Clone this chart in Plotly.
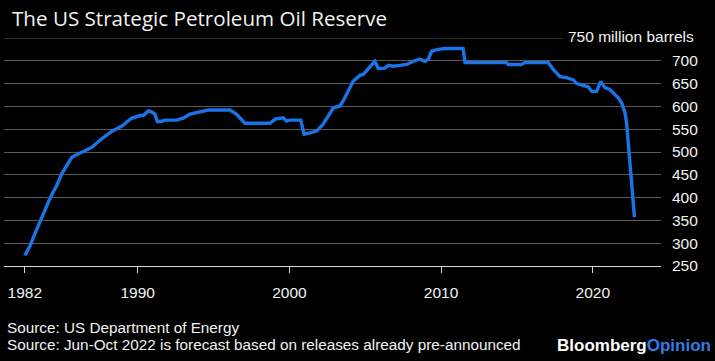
import plotly.graph_objects as go

# ---- data ----
dates = [
    "1982-07-25", "1982-12-01", "1983-03-25", "1983-07-20", "1983-11-20",
    "1984-03-15", "1984-05-25", "1984-08-28", "1984-12-28", "1985-04-25",
    "1985-08-25", "1985-11-05", "1986-04-15", "1986-12-20", "1987-08-05",
    "1988-04-15", "1988-12-15", "1989-08-05", "1990-02-25", "1990-05-15",
    "1990-09-15", "1990-12-01", "1991-02-20", "1991-04-20", "1991-07-30",
    "1991-10-20", "1992-07-25", "1993-01-01", "1993-06-15", "1994-02-05",
    "1994-08-25", "1996-01-30", "1996-07-01", "1997-01-25", "1998-09-20",
    "1999-01-20", "1999-08-05", "1999-10-25", "2000-01-15", "2000-10-01",
    "2000-12-20", "2001-05-10", "2001-10-20", "2002-03-25", "2002-11-25",
    "2003-05-01", "2003-07-20", "2004-03-15", "2004-08-25", "2004-11-15",
    "2005-08-20", "2005-11-10", "2006-04-20", "2006-07-10", "2006-11-05",
    "2007-04-15", "2007-09-25", "2008-03-01", "2008-08-05", "2008-12-10",
    "2009-02-25", "2009-05-20", "2009-10-25", "2010-04-05", "2011-06-15",
    "2011-08-01", "2014-04-25", "2014-06-05", "2015-04-20", "2015-07-10",
    "2017-01-25", "2017-05-25", "2017-11-01", "2018-04-10", "2018-09-20",
    "2018-12-10", "2019-05-15", "2019-09-10", "2019-12-05", "2020-04-05",
    "2020-07-10", "2020-10-20", "2021-02-15", "2021-06-15", "2021-09-05",
    "2021-11-25", "2022-02-15", "2022-03-25", "2022-10-01",
]
reserve = [
    273, 295, 321, 346, 375,
    397, 410, 426, 452, 470,
    488, 492, 499, 510, 528,
    545, 557, 574, 580, 580,
    590, 588, 583, 567, 567,
    570, 570, 574, 583, 588,
    592, 592, 583, 563, 563,
    572, 575, 568, 570, 570,
    539, 542, 546, 561, 597,
    601, 612, 655, 668, 670,
    699, 683, 684, 690, 688,
    690, 692, 699, 704, 699,
    703, 721, 725, 727, 727,
    696, 696, 692, 692, 696,
    696, 681, 665, 663, 658,
    650, 646, 643, 633, 633,
    655, 641, 637, 626, 619,
    608, 586, 564, 357,
]
x_tick_vals = ["1982-07-25", "1990-01-01", "2000-01-01", "2010-01-01", "2020-01-01"]
x_tick_text = ["1982", "1990", "2000", "2010", "2020"]
y_tick_vals = [250, 300, 350, 400, 450, 500, 550, 600, 650, 700]
y_tick_text = ["250", "300", "350", "400", "450", "500", "550", "600", "650", "700"]
top_label = "750 million barrels"
title_text = "The US Strategic Petroleum Oil Reserve"
source_1 = "Source: US Department of Energy"
source_2 = "Source: Jun-Oct 2022 is forecast based on releases already pre-announced"
brand_1 = "Bloomberg"
brand_2 = "Opinion"

# ---- styling ----
BG = "#000000"
GRID = "#5a5a5a"
LINE = "#1a74e8"
TXT = "#f2f2f2"
FONT = "Liberation Sans, Arial, sans-serif"

fig = go.Figure()
fig.add_trace(go.Scatter(
    x=dates, y=reserve, mode="lines",
    line=dict(color=LINE, width=3.4),
    hoverinfo="skip", showlegend=False,
))

W, H = 715, 361
L, R, T, B = 4, 54, 38, 95
PW = W - L - R
PH = H - T - B

fig.update_layout(
    width=W, height=H,
    paper_bgcolor=BG, plot_bgcolor=BG,
    margin=dict(l=L, r=R, t=T, b=B, autoexpand=False),
    font=dict(family=FONT, color=TXT, size=15.5),
    title=dict(
        text=title_text, xref="container", yref="container",
        x=12 / W, y=1 - 19 / H, xanchor="left", yanchor="middle",
        font=dict(family="Open Sans, Noto Sans, sans-serif", size=20.6, color=TXT),
        pad=dict(t=0, b=0, l=0, r=0),
    ),
    xaxis=dict(
        type="date",
        range=["1981-03-10", "2024-07-01"],
        tickvals=x_tick_vals, ticktext=x_tick_text,
        showgrid=False, zeroline=False,
        showline=True, linecolor="#d8d8d8", linewidth=1.2,
        ticks="outside", ticklen=6, tickcolor="#d8d8d8", tickwidth=1,
        ticklabelstandoff=6,
        tickfont=dict(family=FONT, size=15.5, color=TXT),
    ),
    yaxis=dict(
        range=[250, 750], side="right",
        tickvals=y_tick_vals, ticktext=y_tick_text,
        showgrid=True, gridcolor=GRID, gridwidth=1.2,
        zeroline=False, showline=False, ticks="",
        ticklabelstandoff=10,
        tickfont=dict(family=FONT, size=15.5, color=TXT),
    ),
)

# top gridline (750) stops where the unit label begins
fig.add_shape(type="line", xref="paper", yref="y",
              x0=0, x1=(563 - L) / PW, y0=750, y1=750,
              line=dict(color=GRID, width=1.2))
fig.add_annotation(text=top_label, xref="paper", yref="y",
                   x=(566 - L) / PW, y=750, xanchor="left", yanchor="middle",
                   yshift=2, showarrow=False,
                   font=dict(family=FONT, size=15.5, color=TXT))

fig.add_annotation(text=source_1, xref="paper", yref="paper",
                   x=(5 - L) / PW, y=(H - B - 327) / PH,
                   xanchor="left", yanchor="middle", showarrow=False,
                   font=dict(family=FONT, size=15.3, color=TXT))
fig.add_annotation(text=source_2, xref="paper", yref="paper",
                   x=(5 - L) / PW, y=(H - B - 344) / PH,
                   xanchor="left", yanchor="middle", showarrow=False,
                   font=dict(family=FONT, size=15.3, color=TXT))
fig.add_annotation(
    text="<b>" + brand_1 + "<span style='color:#2f7de1'>" + brand_2 + "</span></b>",
    xref="paper", yref="paper",
    x=(713 - L) / PW, y=(H - B - 345) / PH,
    xanchor="right", yanchor="middle", showarrow=False,
    font=dict(family=FONT, size=17, color="#ffffff"))

fig.write_html("out.html",
               config={"displayModeBar": False},
               post_script="document.body.style.margin='0';document.body.style.padding='0';")
